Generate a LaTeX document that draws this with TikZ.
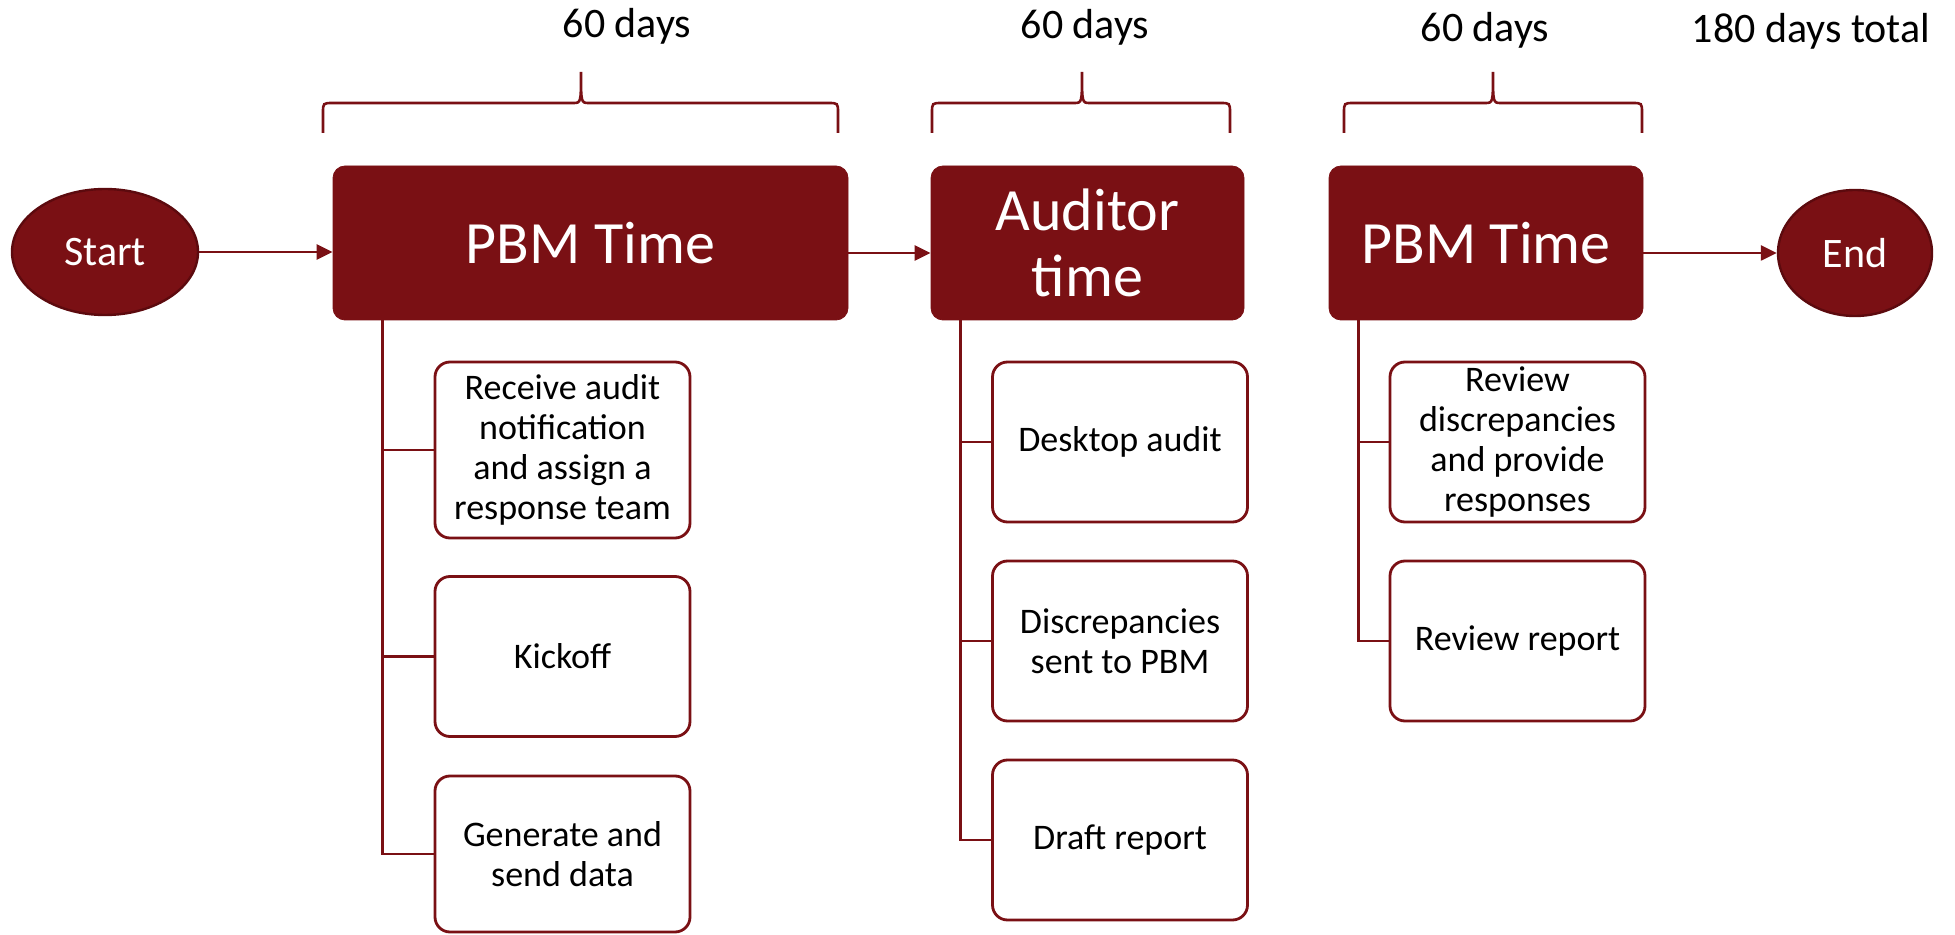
\documentclass[tikz,border=0pt]{standalone}
\usepackage{fontspec}
\setmainfont{Carlito}
\usepackage{xcolor}
\usetikzlibrary{shapes.geometric, arrows.meta, calc}

\definecolor{pbmred}{RGB}{122,16,20}
\definecolor{pbmdark}{RGB}{92,10,14}

\tikzset{
    phase/.style={rectangle, rounded corners=6pt, fill=pbmred, draw=pbmred, text=white,
        inner sep=0pt, minimum height=77pt, align=center, font=\fontsize{30}{33}\selectfont},
    terminal/.style={ellipse, fill=pbmred, draw=pbmdark, line width=1.2pt, text=white,
        inner sep=0pt, minimum height=63pt, font=\fontsize{21}{25}\selectfont},
    task/.style={rectangle, rounded corners=7.5pt, draw=pbmred, line width=1.4pt, fill=white,
        inner sep=0pt, minimum width=127.5pt, minimum height=80pt, align=center,
        font=\fontsize{18}{20}\selectfont},
    flow/.style={draw=pbmred, line width=1.2pt, -{Triangle[length=8pt,width=7.5pt]}},
    branch/.style={draw=pbmred, line width=1.3pt},
    span/.style={draw=pbmred, line width=1.3pt},
    days/.style={anchor=base, font=\fontsize{21}{25}\selectfont}
}

\begin{document}
\begin{tikzpicture}[x=0.5pt, y=-0.5pt]
    \useasboundingbox (0,0) rectangle (1955,935);

    % Define levels
    \def\bt{72}  % tip of the braces
    \def\bm{103} % bar of the braces
    \def\bb{133} % feet of the braces

    % Durations
    \node[days] (d1) at (627,38) {60 days};
    \node[days] (d2) at (1085,39) {60 days};
    \node[days] (d3) at (1485,42) {60 days};
    \node[days] (dt) at (1811,43) {180 days total};

    % Braces over the phases
    \foreach \l/\m/\r in {323/581/838, 932/1082/1230, 1344/1493/1642} {
        \draw[span] (\l,\bb) -- (\l,\bm+10) .. controls (\l,\bm) .. (\l+10,\bm)
            -- (\m-8,\bm) .. controls (\m,\bm) .. (\m,\bt)
            .. controls (\m,\bm) .. (\m+8,\bm)
            -- (\r-10,\bm) .. controls (\r,\bm) .. (\r,\bm+10) -- (\r,\bb);
    }

    % Phases
    \node[terminal, minimum width=93pt] (start) at (105,252) {Start};
    \node[phase, minimum width=257.5pt] (p1) at (590.5,243) {PBM Time};
    \node[phase, minimum width=156.5pt] (aud) at (1087.5,243) {Auditor\\time};
    \node[phase, minimum width=157pt] (p2) at (1486,243) {PBM Time};
    \node[terminal, minimum width=77pt] (end) at (1855,253) {End};

    % Main flow
    \draw[flow] (start.east) -- (start.east -| p1.west);
    \draw[flow] ([yshift=-5pt]p1.east) -- ([yshift=-5pt]aud.west);
    \draw[flow] ([yshift=-5pt]p2.east) -- (end.west);

    % PBM tasks (first period)
    \node[task, minimum height=88pt] (r1) at (562.5,450) {Receive audit\\notification\\and assign a\\response team};
    \node[task] (r2) at (562.5,656.5) {Kickoff};
    \node[task, minimum height=78pt] (r3) at (562.5,854) {Generate and\\send data};

    % Auditor tasks
    \node[task] (a1) at (1120,442) {Desktop audit};
    \node[task] (a2) at (1120,641) {Discrepancies\\sent to PBM};
    \node[task] (a3) at (1120,840) {Draft report};

    % PBM tasks (second period)
    \node[task] (b1) at (1517.5,442) {Review\\discrepancies\\and provide\\responses};
    \node[task] (b2) at (1517.5,641) {Review report};

    % Branches
    \coordinate (t1) at ([xshift=25pt]p1.south west);
    \coordinate (t2) at ([xshift=15pt]aud.south west);
    \coordinate (t3) at ([xshift=15pt]p2.south west);
    \foreach \n in {r1,r2,r3} \draw[branch] (t1) |- (\n.west);
    \foreach \n in {a1,a2,a3} \draw[branch] (t2) |- (\n.west);
    \foreach \n in {b1,b2} \draw[branch] (t3) |- (\n.west);

\end{tikzpicture}
\end{document}
